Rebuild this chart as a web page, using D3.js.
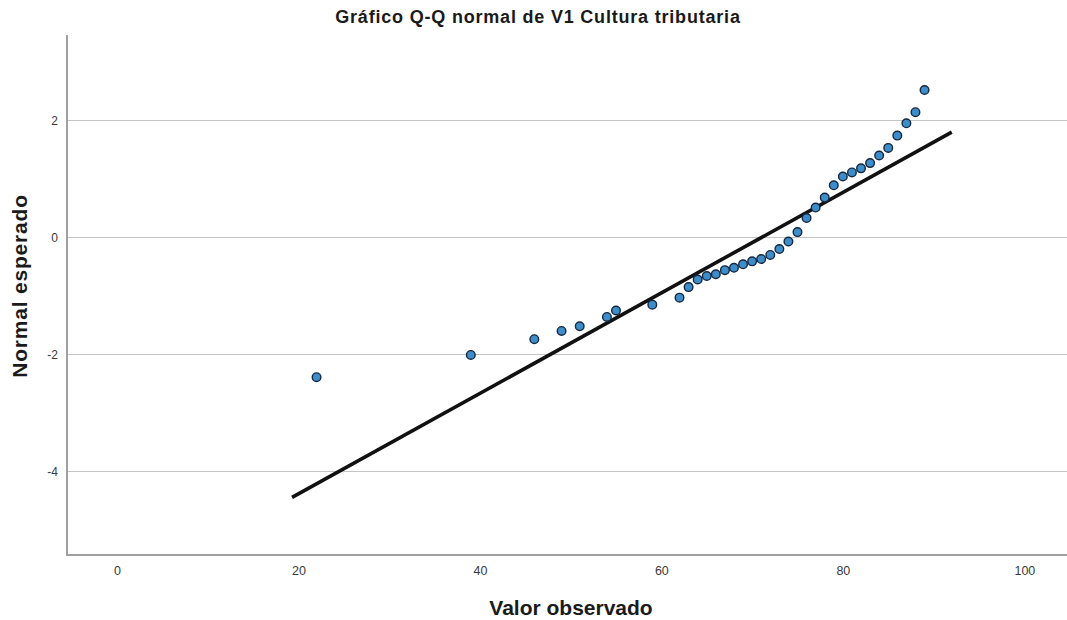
<!DOCTYPE html>
<html>
<head>
<meta charset="utf-8">
<script src="https://cdn.jsdelivr.net/npm/d3@7"></script>
<style>
  body { margin: 0; background: #fff; }
  svg { display: block; }
</style>
</head>
<body>
<svg id="chart" width="1067" height="620"></svg>
<script>
// ================= DATA ===================
// observed values (x) and expected normal scores (y), read from the picture
const observed = [22, 39, 46, 49, 51, 54, 55, 59, 62, 63, 64, 65, 66, 67, 68, 69,
  70, 71, 72, 73, 74, 75, 76, 77, 78, 79, 80, 81, 82, 83, 84, 85, 86, 87, 88, 89];
const expected = [-2.39, -2.01, -1.74, -1.60, -1.52, -1.36, -1.25, -1.15, -1.03,
  -0.85, -0.72, -0.66, -0.63, -0.56, -0.52, -0.46, -0.41, -0.37, -0.30, -0.20,
  -0.07, 0.09, 0.33, 0.51, 0.68, 0.89, 1.04, 1.11, 1.18, 1.27, 1.40, 1.53, 1.74,
  1.95, 2.14, 2.52];

// reference line: mean / sd and its x extent
const lineMean = 71.05;
const lineSd = 11.64;
const lineExtent = [19.3, 92.0];

const xTicks = [0, 20, 40, 60, 80, 100];
const yTicks = [2, 0, -2, -4];

const title = "Gráfico Q-Q normal de V1 Cultura tributaria";
const xTitle = "Valor observado";
const yTitle = "Normal esperado";

// ================= SETTINGS ===================
const svg = d3.select("#chart");
const plot = { left: 67, right: 1067, top: 35, bottom: 555 };
const font = "Liberation Sans, Arial, sans-serif";

const x = d3.scaleLinear().domain([-5.5, 104.7]).range([plot.left, plot.right]);
const y = d3.scaleLinear().domain([-5.43, 3.46]).range([plot.bottom, plot.top]);

// ---------- gridlines ----------
svg.append("g")
  .selectAll("line")
  .data(yTicks)
  .join("line")
  .attr("x1", plot.left)
  .attr("x2", plot.right)
  .attr("y1", (d) => Math.round(y(d)) + 0.5)
  .attr("y2", (d) => Math.round(y(d)) + 0.5)
  .attr("stroke", "#c4c4c4")
  .attr("stroke-width", 1.2);

// ---------- axes ----------
// plain hyphen for negatives, like the original
const plainFormat = (d) => String(d);

const yAxis = svg.append("g")
  .attr("transform", `translate(${plot.left},0)`)
  .call(d3.axisLeft(y).tickValues(yTicks).tickSize(0).tickPadding(9).tickFormat(plainFormat));
yAxis.select(".domain").remove();
yAxis.selectAll("text")
  .attr("font-family", font)
  .attr("font-size", 12)
  .attr("fill", "#3a3a3a");

const xAxis = svg.append("g")
  .attr("transform", `translate(0,${plot.bottom})`)
  .call(d3.axisBottom(x).tickValues(xTicks).tickSize(0).tickPadding(11).tickFormat(plainFormat));
xAxis.select(".domain").remove();
xAxis.selectAll("text")
  .attr("font-family", font)
  .attr("font-size", 12.5)
  .attr("fill", "#3a3a3a");

// axis frame lines (left + bottom)
svg.append("path")
  .attr("d", `M${plot.left},${plot.top} V${plot.bottom} H${plot.right}`)
  .attr("fill", "none")
  .attr("stroke", "#a0a0a0")
  .attr("stroke-width", 2);

// ---------- reference line ----------
svg.append("line")
  .attr("x1", x(lineExtent[0]))
  .attr("y1", y((lineExtent[0] - lineMean) / lineSd))
  .attr("x2", x(lineExtent[1]))
  .attr("y2", y((lineExtent[1] - lineMean) / lineSd))
  .attr("stroke", "#111")
  .attr("stroke-width", 3.6);

// ---------- points ----------
svg.append("g")
  .selectAll("circle")
  .data(observed.map((v, i) => ({ v, e: expected[i] })))
  .join("circle")
  .attr("cx", (d) => x(d.v))
  .attr("cy", (d) => y(d.e))
  .attr("r", 4.3)
  .attr("fill", "#3d8dcb")
  .attr("stroke", "#15283f")
  .attr("stroke-width", 1.4);

// ---------- titles ----------
svg.append("text")
  .attr("x", 538)
  .attr("y", 23)
  .attr("text-anchor", "middle")
  .attr("font-family", font)
  .attr("font-size", 18)
  .attr("font-weight", "bold")
  .attr("letter-spacing", 0.8)
  .attr("fill", "#1a1a1a")
  .text(title);

svg.append("text")
  .attr("x", 571)
  .attr("y", 615)
  .attr("text-anchor", "middle")
  .attr("font-family", font)
  .attr("font-size", 21)
  .attr("font-weight", "bold")
  .attr("fill", "#1a1a1a")
  .text(xTitle);

svg.append("text")
  .attr("transform", "translate(27,286) rotate(-90)")
  .attr("text-anchor", "middle")
  .attr("font-family", font)
  .attr("font-size", 21)
  .attr("font-weight", "bold")
  .attr("letter-spacing", 0.8)
  .attr("fill", "#1a1a1a")
  .text(yTitle);
</script>
</body>
</html>
